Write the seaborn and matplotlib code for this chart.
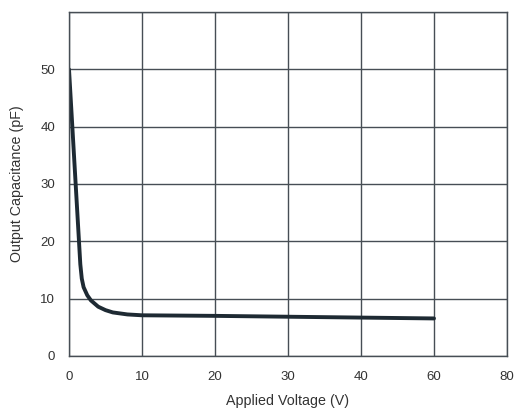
import numpy as np
import pandas as pd
import matplotlib
matplotlib.use("Agg")
import matplotlib.pyplot as plt
import seaborn as sns

# curve (x in grid units, y in pF)
voltage = [0, 1.55, 1.75, 2.0, 2.5, 3.0, 4.0, 5.0, 6.0, 8.0, 10, 20, 30, 40, 50]
capacitance = [50, 16, 13.5, 12.0, 10.6, 9.7, 8.6, 8.0, 7.6, 7.25, 7.1, 7.0, 6.85, 6.7, 6.55]
x_ticks = [0, 10, 20, 30, 40, 50, 60]
x_labels = ["0", "10", "20", "30", "40", "60", "80"]
y_ticks = [0, 10, 20, 30, 40, 50, 60]
y_labels = ["0", "10", "20", "30", "40", "50", ""]

df = pd.DataFrame({"V": voltage, "C": capacitance})

sns.set_style("white")
plt.rcParams['font.family'] = ['Liberation Sans', 'DejaVu Sans']

fig = plt.figure(figsize=(5.19, 4.13), dpi=100)
ax = fig.add_axes([69/519, 1-356/413, (507-69)/519, (356-12)/413])

sns.lineplot(data=df, x="V", y="C", ax=ax, color="#1e2a33", linewidth=2.8)

ax.set_xlim(0, 60)
ax.set_ylim(0, 60)
ax.set_xticks(x_ticks)
ax.set_xticklabels(x_labels)
ax.set_yticks(y_ticks)
ax.set_yticklabels(y_labels)
ax.grid(True, color="#474e55", linewidth=1.0)
ax.tick_params(length=0, labelsize=9.5, colors="#333333")
ax.tick_params(axis="x", pad=11)
ax.tick_params(axis="y", pad=10)
for s in ax.spines.values():
    s.set_color("#474e55")
    s.set_linewidth(1.0)

ax.set_xlabel("Applied Voltage (V)", fontsize=10.3, color="#333333", labelpad=8)
ax.set_ylabel("Output Capacitance (pF)", fontsize=10.3, color="#333333", labelpad=12)

fig.savefig("out.png", dpi=100)
